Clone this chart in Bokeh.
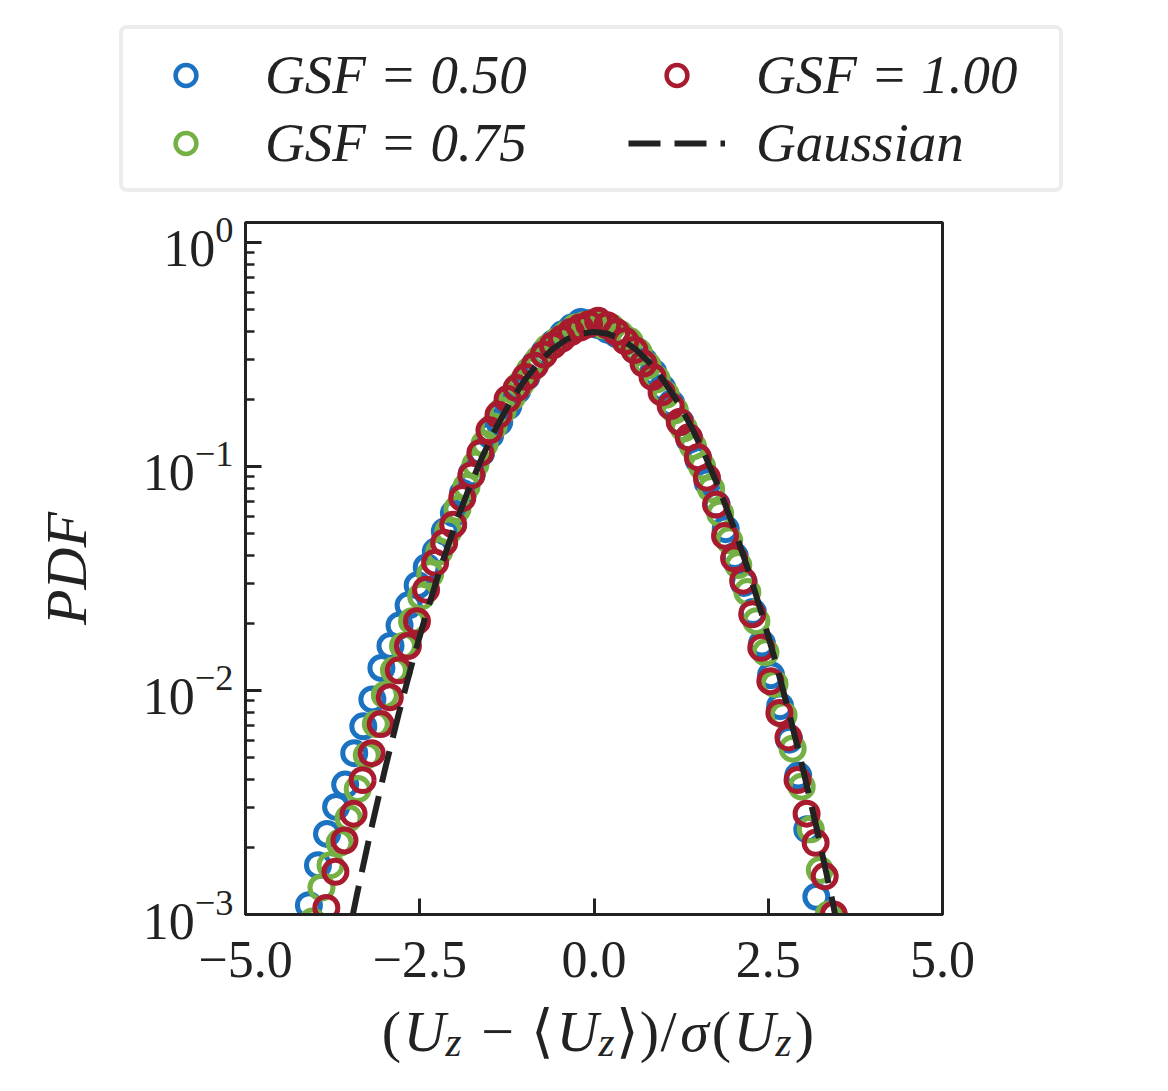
from bokeh.plotting import figure
from bokeh.layouts import column
from bokeh.models import Legend, LegendItem, FixedTicker, LogTickFormatter, Label, Range1d
from bokeh.embed import file_html
from bokeh.resources import INLINE

# PDFs of the normalised vertical velocity fluctuation for three grid-scaling factors
x_gsf050 = [-4.22, -4.09, -3.96, -3.83, -3.70, -3.57, -3.44, -3.31, -3.18, -3.05,
            -2.92, -2.79, -2.66, -2.53, -2.40, -2.27, -2.14, -2.01, -1.88, -1.75,
            -1.62, -1.49, -1.36, -1.23, -1.10, -0.97, -0.84, -0.71, -0.58, -0.45,
            -0.32, -0.19, -0.06, 0.07, 0.20, 0.33, 0.46, 0.59, 0.72, 0.85,
            0.98, 1.11, 1.24, 1.37, 1.50, 1.63, 1.76, 1.89, 2.02, 2.15,
            2.28, 2.41, 2.54, 2.67, 2.80, 2.93, 3.06, 3.19, 3.32]
pdf_gsf050 = [0.00079, 0.00110, 0.00166, 0.00229, 0.00302, 0.00380, 0.00525, 0.00692, 0.00912, 0.0126,
              0.0158, 0.0195, 0.0240, 0.0295, 0.0355, 0.0417, 0.0513, 0.0617, 0.0759, 0.0933,
              0.115, 0.138, 0.158, 0.186, 0.219, 0.251, 0.288, 0.324, 0.355, 0.389,
              0.417, 0.442, 0.437, 0.427, 0.407, 0.389, 0.363, 0.331, 0.295, 0.263,
              0.224, 0.191, 0.158, 0.132, 0.107, 0.0851, 0.0676, 0.0525, 0.0398, 0.0302,
              0.0224, 0.0162, 0.0117, 0.00851, 0.00603, 0.00417, 0.00240, 0.00120, 0.00071]

x_gsf075 = [-4.04, -3.91, -3.78, -3.65, -3.52, -3.39, -3.26, -3.13, -3.00, -2.87,
            -2.74, -2.61, -2.48, -2.35, -2.22, -2.09, -1.96, -1.83, -1.70, -1.57,
            -1.44, -1.31, -1.18, -1.05, -0.92, -0.79, -0.66, -0.53, -0.40, -0.27,
            -0.14, -0.01, 0.12, 0.25, 0.38, 0.51, 0.64, 0.77, 0.90, 1.03,
            1.16, 1.29, 1.42, 1.55, 1.68, 1.81, 1.94, 2.07, 2.20, 2.33,
            2.46, 2.59, 2.72, 2.85, 2.98, 3.11, 3.24, 3.37]
pdf_gsf075 = [0.00093, 0.00132, 0.00166, 0.00209, 0.00269, 0.00363, 0.00513, 0.00708, 0.00955, 0.0123,
              0.0158, 0.0204, 0.0263, 0.0331, 0.0417, 0.0513, 0.0646, 0.0813, 0.102, 0.126,
              0.151, 0.178, 0.204, 0.234, 0.269, 0.302, 0.339, 0.363, 0.389, 0.417,
              0.427, 0.437, 0.427, 0.417, 0.389, 0.363, 0.324, 0.282, 0.245, 0.209,
              0.178, 0.148, 0.123, 0.100, 0.0794, 0.0617, 0.0468, 0.0363, 0.0275, 0.0204,
              0.0148, 0.0107, 0.00776, 0.00550, 0.00372, 0.00240, 0.00158, 0.00100]

x_gsf100 = [-3.97, -3.84, -3.71, -3.58, -3.45, -3.32, -3.19, -3.06, -2.93, -2.80,
            -2.67, -2.54, -2.41, -2.28, -2.15, -2.02, -1.89, -1.76, -1.63, -1.50,
            -1.37, -1.24, -1.11, -0.98, -0.85, -0.72, -0.59, -0.46, -0.33, -0.20,
            -0.07, 0.06, 0.19, 0.32, 0.45, 0.58, 0.71, 0.84, 0.97, 1.10,
            1.23, 1.36, 1.49, 1.62, 1.75, 1.88, 2.01, 2.14, 2.27, 2.40,
            2.53, 2.66, 2.79, 2.92, 3.05, 3.18, 3.31, 3.44]
pdf_gsf100 = [0.00083, 0.00107, 0.00155, 0.00214, 0.00282, 0.00398, 0.00525, 0.00708, 0.00933, 0.0123,
              0.0158, 0.0204, 0.0282, 0.0372, 0.0457, 0.0550, 0.0724, 0.0912, 0.115, 0.145,
              0.170, 0.200, 0.224, 0.251, 0.282, 0.316, 0.347, 0.372, 0.398, 0.417,
              0.432, 0.447, 0.427, 0.398, 0.363, 0.331, 0.288, 0.251, 0.214, 0.186,
              0.158, 0.135, 0.110, 0.0891, 0.0676, 0.0490, 0.0389, 0.0309, 0.0219, 0.0155,
              0.0110, 0.00794, 0.00617, 0.00398, 0.00282, 0.00209, 0.00148, 0.00100]

# standard normal density, tabulated
gauss_x = [-3.6, -3.4, -3.2, -3.0, -2.8, -2.6, -2.4, -2.2, -2.0, -1.8,
           -1.6, -1.4, -1.2, -1.0, -0.8, -0.6, -0.4, -0.2, 0.0, 0.2,
           0.4, 0.6, 0.8, 1.0, 1.2, 1.4, 1.6, 1.8, 2.0, 2.2,
           2.4, 2.6, 2.8, 3.0, 3.2, 3.4, 3.6]
gauss_pdf = [0.000612, 0.001232, 0.002384, 0.004432, 0.007915, 0.013583, 0.022395, 0.035475, 0.053991, 0.078950,
             0.110921, 0.149727, 0.194186, 0.241971, 0.289692, 0.333225, 0.368270, 0.391043, 0.398942, 0.391043,
             0.368270, 0.333225, 0.289692, 0.241971, 0.194186, 0.149727, 0.110921, 0.078950, 0.053991, 0.035475,
             0.022395, 0.013583, 0.007915, 0.004432, 0.002384, 0.001232, 0.000612]

series_labels = ["GSF = 0.50", "GSF = 0.75", "GSF = 1.00"]
series_colors = ["#1a72c0", "#74b043", "#a81b2f"]

x_ticks = [-5.0, -2.5, 0.0, 2.5, 5.0]
x_tick_labels = ["\u22125.0", "\u22122.5", "0.0", "2.5", "5.0"]
y_ticks = [1e-3, 1e-2, 1e-1, 1e0]

INK = "#222222"
SERIF = "Liberation Serif"
PAGE_W = 1168
LEFT, FRAME_W, RIGHT = 245, 697, 226


def blank_strip(height, left=0, width=PAGE_W, right=0):
    """A pixel-addressed strip with no axes (x data value == page pixel column)."""
    return figure(frame_width=width, frame_height=height,
                  x_range=Range1d(left, left + width), y_range=Range1d(0, height),
                  x_axis_type=None, y_axis_type=None,
                  output_backend="svg", toolbar_location=None,
                  min_border_left=left, min_border_right=right,
                  min_border_top=0, min_border_bottom=0,
                  outline_line_color=None, background_fill_alpha=0,
                  border_fill_alpha=0)


# ---- main panel -------------------------------------------------------------
p = figure(frame_width=FRAME_W, frame_height=692,
           x_range=Range1d(-5, 5), y_range=Range1d(1e-3, 1.228),
           y_axis_type="log", output_backend="svg", toolbar_location=None,
           min_border_left=LEFT, min_border_right=RIGHT,
           min_border_top=22, min_border_bottom=90,
           background_fill_color="white", border_fill_color="white",
           outline_line_color=INK, outline_line_width=3)
p.xgrid.visible = False
p.ygrid.visible = False

# data markers (blue under green under red), Gaussian reference on top
for xs, ys, c in zip([x_gsf050, x_gsf075, x_gsf100],
                     [pdf_gsf050, pdf_gsf075, pdf_gsf100], series_colors):
    p.scatter(xs, ys, marker="circle", size=23, fill_color=None,
              line_color=c, line_width=5)
p.line(gauss_x, gauss_pdf, line_color=INK, line_width=6, line_dash="32 14")

xa = p.xaxis[0]
ya = p.yaxis[0]
xa.ticker = FixedTicker(ticks=x_ticks, minor_ticks=[])
xa.major_label_overrides = {t: s for t, s in zip(x_ticks, x_tick_labels)}
xa.axis_label = None   # the x title is set in the strip below
ya.ticker = FixedTicker(ticks=y_ticks,
                        minor_ticks=[m * d for d in (1e-3, 1e-2, 1e-1) for m in range(2, 10)])
ya.formatter = LogTickFormatter()
for ax in (xa, ya):
    ax.axis_line_width = 3
    ax.axis_line_color = INK
    ax.major_tick_in = 16
    ax.major_tick_out = 0
    ax.minor_tick_in = 9
    ax.minor_tick_out = 0
    ax.major_tick_line_width = 3
    ax.major_tick_line_color = INK
    ax.minor_tick_line_width = 2.5
    ax.minor_tick_line_color = INK
    ax.major_label_text_font = SERIF
    ax.major_label_text_font_size = "52px"
    ax.major_label_text_color = INK
xa.major_label_standoff = 27
ya.major_label_standoff = 12

ya.axis_label = "PDF"
ya.axis_label_text_font = SERIF
ya.axis_label_text_font_size = "58px"
ya.axis_label_text_font_style = "italic"
ya.axis_label_text_color = INK
ya.axis_label_standoff = 41

# ---- legend strip above the panel -------------------------------------------
top = blank_strip(200)
handles = []
for c in series_colors:
    handles.append(top.scatter(x=[-100], y=[-100], marker="circle", size=15,
                               fill_color=None, line_color=c, line_width=4.5))
gauss_handle = top.line(x=[-200, -100], y=[-100, -100], line_color=INK,
                        line_width=6, line_dash="32 14")

legend = Legend(items=[
    LegendItem(label=series_labels[0] + " " * 7, renderers=[handles[0]]),
    LegendItem(label=series_labels[1] + " " * 7, renderers=[handles[1]]),
    LegendItem(label=series_labels[2] + " " * 2, renderers=[handles[2]]),
    LegendItem(label="Gaussian", renderers=[gauss_handle]),
], ncols=2, location=(119, 8), orientation="vertical", margin=0,
   glyph_width=97, glyph_height=52, label_height=52, label_standoff=31,
   spacing=5, padding=14,
   label_text_font=SERIF, label_text_font_size="55px", label_text_font_style="italic",
   label_text_color=INK, border_line_color="#d9d9d9", border_line_width=4,
   background_fill_color="white", background_fill_alpha=1.0)
if "border_radius" in Legend.properties():
    legend.border_radius = 8
top.add_layout(legend)

# ---- x title strip below the panel: "(U_z − ⟨U_z⟩)/σ(U_z)" -------------------
# pulled up over the empty lower margin of the main panel
bottom = blank_strip(100, left=LEFT, width=FRAME_W, right=RIGHT)
bottom.margin = (-18, 0, 0, 0)
title_parts = [("(", "normal", 0), ("U", "italic", 0), ("z", "italic", 1),
               ("\u2212", "normal", 0), ("\u27e8", "normal", 0), ("U", "italic", 0),
               ("z", "italic", 1), ("\u27e9", "normal", 0), (")", "normal", 0),
               ("/", "normal", 0), ("\u03c3", "italic", 0), ("(", "normal", 0),
               ("U", "italic", 0), ("z", "italic", 1), (")", "normal", 0)]
part_x = [391, 424, 453, 497, 542, 577, 606, 627, 649, 668, 694, 721, 754, 783, 804]
for (txt, style, sub), px in zip(title_parts, part_x):
    bottom.add_layout(Label(x=px, y=45 if sub else 55,
                            text=txt, text_font=SERIF, text_font_style=style,
                            text_font_size="41px" if sub else "58px",
                            text_align="center", text_baseline="alphabetic",
                            text_color=INK))

page = column(top, p, bottom, spacing=0)
open("out.html", "w").write(file_html(page, INLINE))
